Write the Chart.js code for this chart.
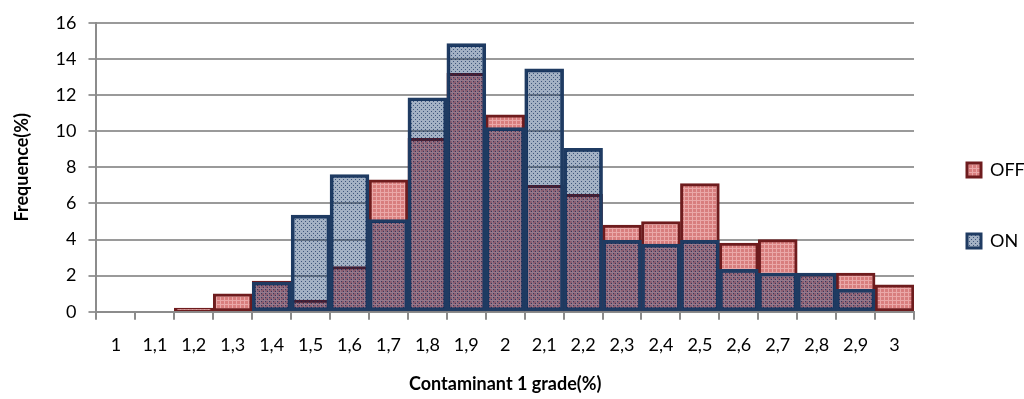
<!DOCTYPE html>
<html>
<head>
<meta charset="utf-8">
<script src="https://cdn.jsdelivr.net/npm/chart.js@4/dist/chart.umd.min.js"></script>
<style>
  html, body { margin: 0; padding: 0; background: #ffffff; }
  #wrap { width: 1024px; height: 399px; }
</style>
</head>
<body>
<div id="wrap"><canvas id="c" width="1024" height="399"></canvas></div>
<script>
const categories = ['1','1,1','1,2','1,3','1,4','1,5','1,6','1,7','1,8','1,9','2','2,1','2,2','2,3','2,4','2,5','2,6','2,7','2,8','2,9','3'];
const offValues = [0, 0, 0.2, 1.0, 1.7, 0.65, 2.5, 7.3, 9.6, 13.2, 10.9, 7.0, 6.5, 4.8, 5.0, 7.1, 3.8, 4.0, 2.1, 2.15, 1.5];
const onValues  = [0, 0, 0, 0, 1.65, 5.35, 7.6, 5.1, 11.85, 14.85, 10.2, 13.45, 9.05, 3.95, 3.75, 3.95, 2.35, 2.15, 2.15, 1.25, 0];
const seriesNames = ['OFF', 'ON'];
const yMin = 0, yMax = 16, yStep = 2;
const xTitle = 'Contaminant 1 grade(%)';
const yTitle = 'Frequence(%)';

function makePattern(base, mark, kind) {
  const c = document.createElement('canvas');
  c.width = 4; c.height = 4;
  const x = c.getContext('2d');
  x.fillStyle = base; x.fillRect(0, 0, 4, 4);
  x.fillStyle = mark;
  if (kind === 'grid') { x.fillRect(0, 0, 4, 1); x.fillRect(0, 0, 1, 4); }
  else { x.fillRect(1, 1, 1, 1); x.fillRect(3, 3, 1, 1); }
  return x.createPattern(c, 'repeat');
}
const offFill = makePattern('rgb(216,126,126)', 'rgb(234,168,168)', 'grid');
const onFill = makePattern('rgba(0,38,92,0.36)', 'rgba(0,30,80,0.62)', 'dots');

const FONT = 'Lato, "Open Sans", sans-serif';
Chart.defaults.font.family = FONT;
Chart.defaults.color = '#000';

new Chart(document.getElementById('c'), {
  type: 'bar',
  data: {
    labels: categories,
    datasets: [
      { label: seriesNames[0], data: offValues, backgroundColor: offFill, borderColor: '#6e1c1e', borderWidth: 3, borderSkipped: false, grouped: false, barPercentage: 1, categoryPercentage: 1, order: 1 },
      { label: seriesNames[1], data: onValues, backgroundColor: onFill, borderColor: '#1f3b62', borderWidth: 3, borderSkipped: false, grouped: false, barPercentage: 1, categoryPercentage: 1, order: 0 }
    ]
  },
  options: {
    responsive: false,
    animation: false,
    layout: { padding: { left: 11, right: 0, top: 12, bottom: 0 } },
    plugins: {
      tooltip: { enabled: false },
      legend: {
        position: 'right',
        maxWidth: 110,
        labels: {
          boxWidth: 14, boxHeight: 14, padding: 53,
          font: { size: 18, family: FONT },
          sort: (a, b) => a.datasetIndex - b.datasetIndex
        }
      }
    },
    scales: {
      x: {
        offset: true,
        grid: { offset: true, drawOnChartArea: false, drawTicks: true, tickLength: 8, color: '#8c8c8c', lineWidth: 2 },
        border: { color: '#8c8c8c', width: 2 },
        ticks: { font: { size: 18, family: FONT }, maxRotation: 0, autoSkip: false, padding: 15 },
        title: { display: true, text: xTitle, font: { size: 18, weight: 'bold', family: FONT }, padding: { top: 2 } }
      },
      y: {
        min: yMin, max: yMax,
        ticks: { stepSize: yStep, font: { size: 18, family: FONT }, padding: 12 },
        grid: { color: '#9a9a9a', lineWidth: 2, tickLength: 8 },
        border: { color: '#8c8c8c', width: 2 },
        title: { display: true, text: yTitle, font: { size: 18, weight: 'bold', family: FONT }, padding: { top: 0, bottom: 11 } }
      }
    }
  }
});
</script>
</body>
</html>
